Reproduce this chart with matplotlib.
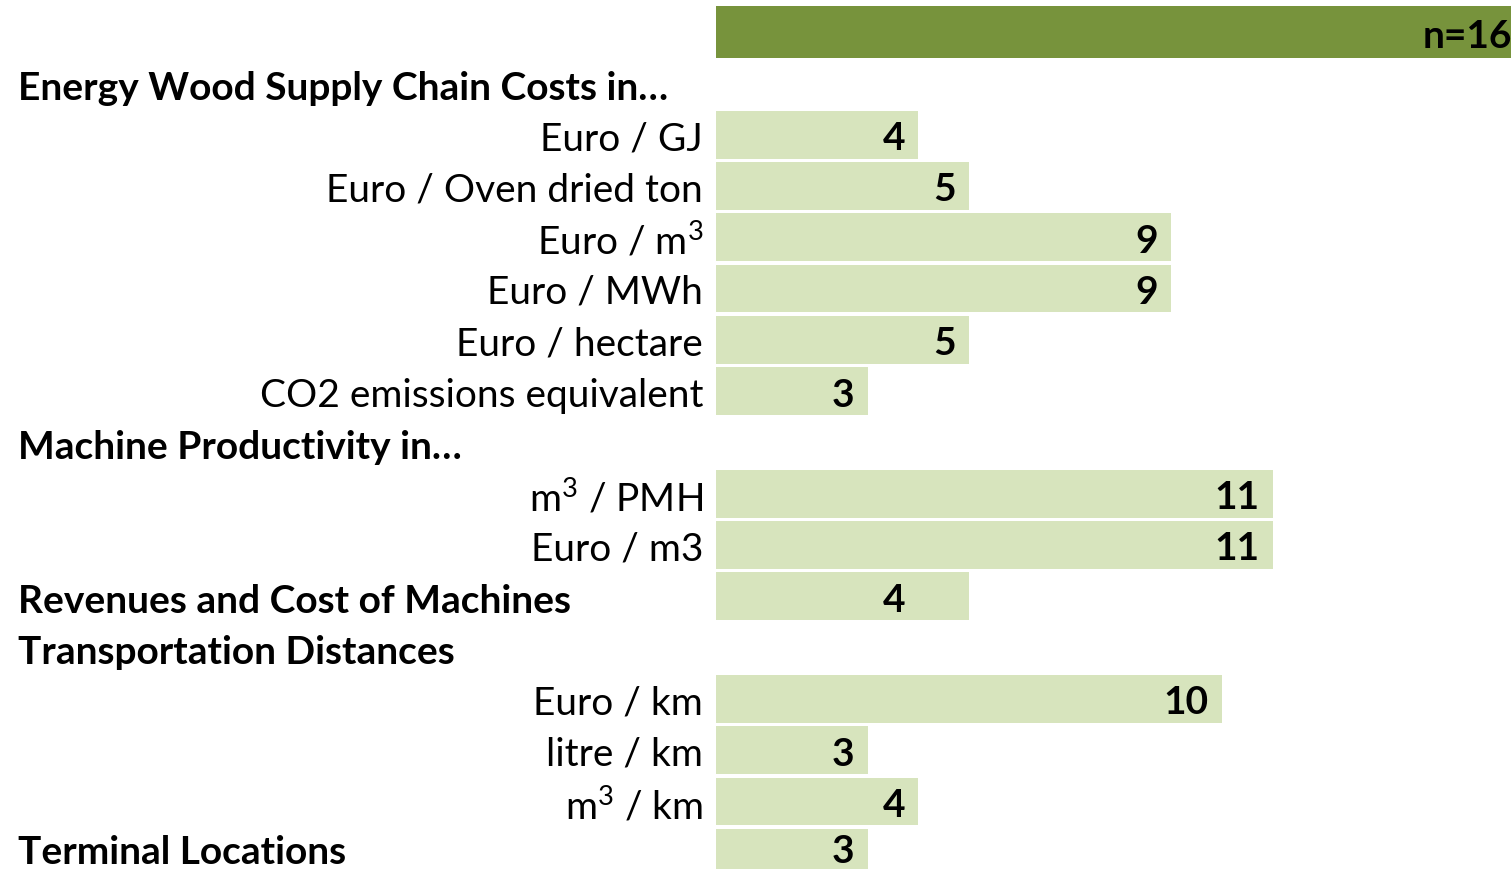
import matplotlib
matplotlib.use("Agg")
import matplotlib.pyplot as plt

plt.rcParams["mathtext.fontset"] = "custom"
plt.rcParams["mathtext.rm"] = "Lato"
plt.rcParams["mathtext.it"] = "Lato:italic"
plt.rcParams["mathtext.bf"] = "Lato:bold"

labels = ["", "Energy Wood Supply Chain Costs in…", "Euro / GJ", "Euro / Oven dried ton",
          "Euro / m$^3$", "Euro / MWh", "Euro / hectare", "CO2 emissions equivalent",
          "Machine Productivity in…", "m$^3$ / PMH", "Euro / m3",
          "Revenues and Cost of Machines", "Transportation Distances",
          "Euro / km", "litre / km", "m$^3$ / km", "Terminal Locations"]
# drawn bar lengths (the "Revenues" bar is drawn one unit longer than its label in the source)
bar_values = [16, None, 4, 5, 9, 9, 5, 3, None, 11, 11, 5, None, 10, 3, 4, 3]
# numbers printed on the bars
label_values = [16, None, 4, 5, 9, 9, 5, 3, None, 11, 11, 4, None, 10, 3, 4, 3]
is_header = [False, True, False, False, False, False, False, False, True, False, False,
             True, True, False, False, False, True]

FONT = "Lato"
W, H, DPI = 1511, 870, 100
fig = plt.figure(figsize=(W / DPI, H / DPI), dpi=DPI)
ax_left = 716 / W
ax = fig.add_axes([ax_left, 0, 1 - ax_left, 1])

row_px = 51.3
y0_px = 33
ax.set_ylim((H - y0_px) / row_px, -y0_px / row_px)
unit_px = 50.6
ax.set_xlim(0, (W - 716) / unit_px)
ax.axis("off")

dark = "#77933C"
light = "#D7E4BD"
fs = 28
n_rows = len(labels)

for i, (lab, bv, lv, hd) in enumerate(zip(labels, bar_values, label_values, is_header)):
    # keep the last row's text fully inside the figure
    lift = 5 if i == n_rows - 1 else 0
    if bv is not None:
        ax.barh(i, bv, height=1.0 if i == 0 else 0.935, color=dark if i == 0 else light,
                zorder=1)
        txt = f"n={lv}" if i == 0 else str(lv)
        ax.annotate(txt, xy=(lv, i), xytext=(-9.5, lift * 0.72), textcoords="offset points",
                    ha="right", va="center_baseline", fontsize=fs, fontweight="bold",
                    family=FONT, color="black", annotation_clip=False)
    if lab:
        if hd:
            fig.text(18 / W, 1 - (y0_px + row_px * i + 1 - lift) / H, lab, ha="left",
                     va="center_baseline", fontsize=fs, fontweight="bold", family=FONT,
                     color="black")
        else:
            fig.text(703 / W, 1 - (y0_px + row_px * i - lift) / H, lab, ha="right",
                     va="center_baseline", fontsize=fs, family=FONT, color="black")

fig.savefig("out.png", dpi=DPI)
